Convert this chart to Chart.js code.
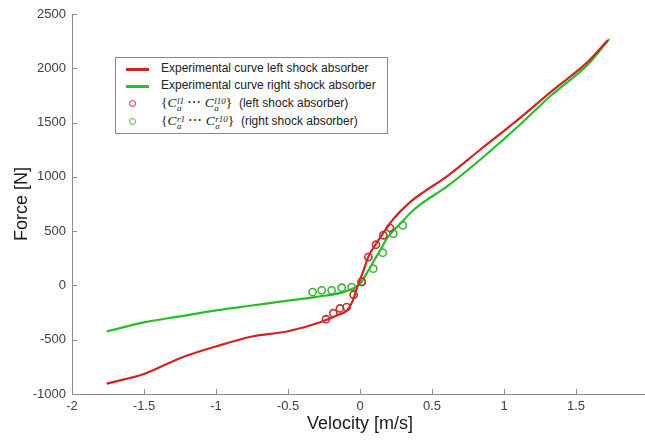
<!DOCTYPE html>
<html>
<head>
<meta charset="utf-8">
<script src="https://cdn.jsdelivr.net/npm/chart.js@4/dist/chart.umd.min.js"></script>
<style>
html,body{margin:0;padding:0;overflow:hidden;background:#fff;width:645px;height:440px;}
#wrap{position:relative;width:660px;height:440px;}
canvas{position:absolute;left:0;top:0;}
#legend{position:absolute;left:115px;top:57px;width:271px;height:75px;border:1px solid #8a8a8a;background:#fff;
  font-family:"Liberation Sans",Arial,sans-serif;font-size:12px;color:#222;}
.row{position:absolute;left:0;width:100%;height:18px;}
.ln{position:absolute;left:10px;top:8px;width:23px;height:2.5px;}
.mk{position:absolute;left:13px;top:5px;width:5px;height:5px;border-radius:50%;border:1.6px solid;}
.tx{position:absolute;left:45px;top:1px;white-space:nowrap;line-height:14px;}
.m{font-family:"Liberation Serif","DejaVu Serif",serif;font-size:13.5px;}
.m i{font-style:italic;}
.ss{display:inline-block;vertical-align:-4px;line-height:7.5px;font-size:9px;font-style:italic;margin-left:0.5px;}
.ss span{display:block;}
</style>
</head>
<body>
<div id="wrap">
<canvas id="c" width="660" height="440"></canvas>
<div id="legend">
  <div class="row" style="top:2px"><div class="ln" style="background:#d42222"></div><div class="tx">Experimental curve left shock absorber</div></div>
  <div class="row" style="top:19px"><div class="ln" style="background:#24c024"></div><div class="tx">Experimental curve right shock absorber</div></div>
  <div class="row" style="top:37px"><div class="mk" style="border-color:#c83030"></div><div class="tx"><span class="m">{<i>C</i><span class="ss"><span>l1</span><span>a</span></span> ⋯ <i>C</i><span class="ss"><span>l10</span><span>a</span></span>}</span>&nbsp; (left shock absorber)</div></div>
  <div class="row" style="top:55px"><div class="mk" style="border-color:#36b836"></div><div class="tx"><span class="m">{<i>C</i><span class="ss"><span>r1</span><span>a</span></span> ⋯ <i>C</i><span class="ss"><span>r10</span><span>a</span></span>}</span>&nbsp; (right shock absorber)</div></div>
</div>
</div>
<script>
// Experimental curve, left shock absorber
const velLeft   = [-1.76,-1.5,-1.25,-1.0,-0.75,-0.5,-0.28,-0.15,-0.09,-0.05,-0.015,0.02,0.06,0.1,0.16,0.23,0.35,0.46,0.6,0.83,1.11,1.34,1.58,1.72];
const forceLeft = [-904,-815,-670,-562,-470,-422,-341,-270,-231,-140,0,120,270,360,480,610,770,876,1000,1245,1541,1799,2057,2258];
// Experimental curve, right shock absorber
const velRight   = [-1.76,-1.5,-1.25,-1.0,-0.75,-0.5,-0.3,-0.1,0,0.05,0.1,0.14,0.19,0.28,0.37,0.46,0.6,0.83,1.11,1.34,1.58,1.73];
const forceRight = [-424,-340,-285,-230,-185,-140,-105,-55,15,120,235,323,440,569,692,784,907,1153,1480,1765,2030,2269];
// Identified points {C_a^l1 ... C_a^l10}
const ptVelLeft   = [-0.236,-0.185,-0.139,-0.093,-0.044,0.012,0.058,0.111,0.162,0.208];
const ptForceLeft = [-311,-256,-212,-200,-86,35,261,375,462,529];
// Identified points {C_a^r1 ... C_a^r10}
const ptVelRight   = [-0.329,-0.266,-0.197,-0.127,-0.058,0.012,0.092,0.158,0.231,0.297];
const ptForceRight = [-62,-46,-46,-21,-16,30,154,302,477,553];
// Axis ticks
const xTicks = [-2,-1.5,-1,-0.5,0,0.5,1,1.5,2];
const yTicks = [-1000,-500,0,500,1000,1500,2000,2500];

const pts = (xs, ys) => xs.map((x, i) => ({x, y: ys[i]}));

const inwardTicks = {
  id: 'inwardTicks',
  afterDraw(chart) {
    const {ctx, scales: {x, y}} = chart;
    ctx.save();
    ctx.strokeStyle = '#8c8c8c';
    ctx.lineWidth = 1;
    ctx.beginPath();
    xTicks.forEach(v => {
      const px = Math.round(x.getPixelForValue(v)) + 0.5;
      ctx.moveTo(px, y.bottom); ctx.lineTo(px, y.bottom - 5);
    });
    yTicks.forEach(v => {
      const py = Math.round(y.getPixelForValue(v)) + 0.5;
      ctx.moveTo(x.left, py); ctx.lineTo(x.left + 5, py);
    });
    ctx.stroke();
    ctx.restore();
  }
};

const tickFont = {family: '"Liberation Sans", Arial, sans-serif', size: 13};
const titleFont = {family: '"Liberation Sans", Arial, sans-serif', size: 18};

new Chart(document.getElementById('c'), {
  type: 'scatter',
  data: {
    datasets: [
      {label: 'left points', data: pts(ptVelLeft, ptForceLeft), showLine: false, pointRadius: 3.6, pointBorderWidth: 1.6,
       pointBorderColor: '#c83030', pointBackgroundColor: 'rgba(0,0,0,0)', order: 0},
      {label: 'right points', data: pts(ptVelRight, ptForceRight), showLine: false, pointRadius: 3.6, pointBorderWidth: 1.6,
       pointBorderColor: '#36b836', pointBackgroundColor: 'rgba(0,0,0,0)', order: 1},
      {label: 'Experimental curve left shock absorber', data: pts(velLeft, forceLeft), showLine: true, pointRadius: 0,
       borderColor: '#d42222', borderWidth: 2.2, cubicInterpolationMode: 'monotone', order: 2},
      {label: 'Experimental curve right shock absorber', data: pts(velRight, forceRight), showLine: true, pointRadius: 0,
       borderColor: '#24c024', borderWidth: 2.2, cubicInterpolationMode: 'monotone', order: 3}
    ]
  },
  options: {
    responsive: false,
    animation: false,
    layout: {padding: {top: 14, right: 12, left: 0, bottom: 0}},
    plugins: {legend: {display: false}, tooltip: {enabled: false}},
    scales: {
      x: {
        type: 'linear', min: -2, max: 2,
        afterBuildTicks: s => { s.ticks = xTicks.map(v => ({value: v})); },
        afterFit: s => { s.height = 46; },
        ticks: {font: tickFont, color: '#404040', padding: 5, maxRotation: 0, callback: v => String(v)},
        grid: {display: false, drawTicks: false},
        border: {display: true, color: '#8c8c8c', width: 1},
        title: {display: true, text: 'Velocity [m/s]', font: titleFont, color: '#1a1a1a', padding: {top: 0, bottom: 5}}
      },
      y: {
        type: 'linear', min: -1000, max: 2500,
        afterBuildTicks: s => { s.ticks = yTicks.map(v => ({value: v})); },
        afterFit: s => { s.width = 72; },
        ticks: {font: tickFont, color: '#404040', padding: 6, callback: v => String(v)},
        grid: {display: false, drawTicks: false},
        border: {display: true, color: '#8c8c8c', width: 1},
        title: {display: true, text: 'Force [N]', font: titleFont, color: '#1a1a1a', padding: {top: 11, bottom: 0}}
      }
    }
  },
  plugins: [inwardTicks]
});
</script>
</body>
</html>
